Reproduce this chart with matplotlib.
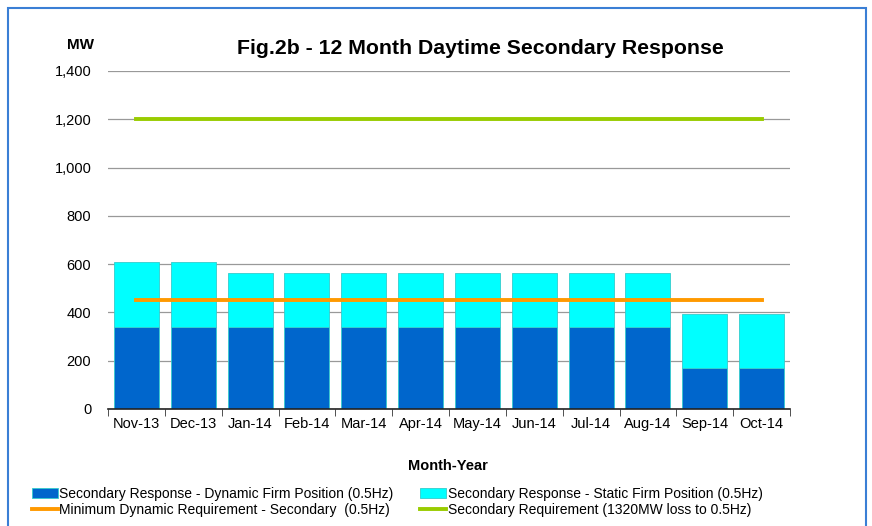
import matplotlib.pyplot as plt
import matplotlib.patches as mpatches
import numpy as np

plt.rcParams['font.family'] = ['Liberation Sans', 'DejaVu Sans']

months = ['Nov-13', 'Dec-13', 'Jan-14', 'Feb-14', 'Mar-14', 'Apr-14',
          'May-14', 'Jun-14', 'Jul-14', 'Aug-14', 'Sep-14', 'Oct-14']
dynamic = [340, 340, 340, 340, 340, 340, 340, 340, 340, 340, 170, 170]
static = [270, 270, 225, 225, 225, 225, 225, 225, 225, 225, 225, 225]
min_dynamic = [450] * 12
sec_req = [1200] * 12

x = np.arange(len(months))

fig = plt.figure(figsize=(8.72, 5.26), dpi=100)
ax = fig.add_axes([108 / 872, 1 - 409 / 526, 682 / 872, 338 / 526])

b1 = ax.bar(x, dynamic, width=0.79, color='#0066CC', edgecolor='#33CCCC', linewidth=0.6,
            zorder=2)
b2 = ax.bar(x, static, width=0.79, bottom=dynamic, color='#00FFFF', edgecolor='#33CCCC',
            linewidth=0.6, zorder=2)
l1, = ax.plot(x, min_dynamic, color='#FF9900', lw=2.8, zorder=3)
l2, = ax.plot(x, sec_req, color='#99CC00', lw=2.8, zorder=3)

ax.set_xlim(-0.5, 11.5)
ax.set_ylim(0, 1400)
ax.set_yticks(np.arange(0, 1401, 200))
ax.set_yticklabels([f'{v:,}' for v in range(0, 1401, 200)])
ax.yaxis.grid(True, color='#999999', lw=0.9, zorder=0)
ax.set_axisbelow(True)
ax.tick_params(axis='y', length=0, labelsize=10.5, pad=12)
ax.set_xticks(x)
ax.set_xticklabels(months)
ax.tick_params(axis='x', length=0, labelsize=10.5, pad=6)
ax.set_xticks(np.arange(-0.5, 12, 1), minor=True)
ax.tick_params(axis='x', which='minor', length=5, direction='out', color='#333333')
for s in ['top', 'right', 'left']:
    ax.spines[s].set_visible(False)
ax.spines['bottom'].set_color('#222222')
ax.spines['bottom'].set_linewidth(1.2)

fig.text(480 / 872, 1 - 48 / 526, 'Fig.2b - 12 Month Daytime Secondary Response',
         ha='center', va='center', fontsize=15.3, fontweight='bold')
fig.text(80 / 872, 1 - 45 / 526, 'MW', ha='center', va='center', fontsize=11, fontweight='bold')
fig.text(448 / 872, 1 - 466 / 526, 'Month-Year', ha='center', va='center', fontsize=10.5,
         fontweight='bold')

# column-major fill: col 1 = dynamic, orange; col 2 = static, green
handles = [b1, l1, b2, l2]
labels = ['Secondary Response - Dynamic Firm Position (0.5Hz)',
          'Minimum Dynamic Requirement - Secondary  (0.5Hz)',
          'Secondary Response - Static Firm Position (0.5Hz)',
          'Secondary Requirement (1320MW loss to 0.5Hz)']
fig.legend(handles, labels, ncol=2, loc='upper left',
           bbox_to_anchor=(26 / 872, 1 - 481 / 526), frameon=False, fontsize=10,
           handlelength=1.9, handletextpad=0.1, columnspacing=1.9, labelspacing=0.2,
           borderaxespad=0)

fig.patches.append(mpatches.Rectangle((8 / 872, -0.05), 858 / 872, 1.05 - 8 / 526,
                                      transform=fig.transFigure, fill=False,
                                      edgecolor='#3A7FD5', lw=1.5))

fig.savefig('out.png', dpi=100)
